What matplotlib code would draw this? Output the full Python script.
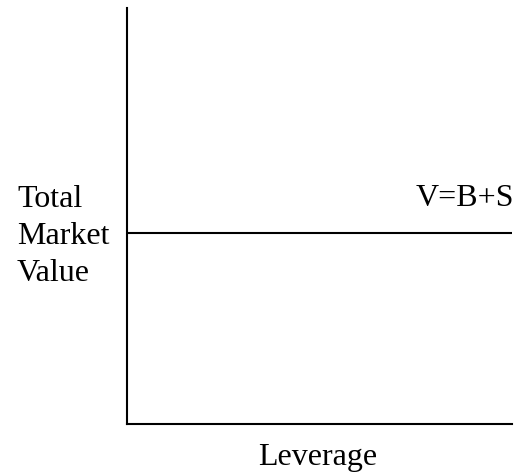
import numpy as np
import matplotlib
matplotlib.use("Agg")
import matplotlib.pyplot as plt

# leverage axis (arbitrary units) and total market value, which stays flat
leverage = [0.0, 1.0]
total_value = [0.46, 0.46]
line_label = "V=B+S"
y_label_lines = ["Total", "Market", "Value"]
x_label = "Leverage"

W, H = 526, 472
plt.rcParams['font.family'] = ['Liberation Serif', 'DejaVu Serif']

fig = plt.figure(figsize=(W / 100, H / 100), dpi=100)
# axes box in pixel terms: x 127..512, y 8..424 (from top)
ax = fig.add_axes([127 / W, (H - 424) / H, (512 - 127) / W, 416 / H])
ax.plot(leverage, total_value, color="black", linewidth=1.5)
ax.set_xlim(0, 1)
ax.set_ylim(0, 1)
for side in ["top", "right"]:
    ax.spines[side].set_visible(False)
for side in ["left", "bottom"]:
    ax.spines[side].set_linewidth(1.5)
ax.set_xticks([])
ax.set_yticks([])

fs = 23
# series label sitting above the right end of the line
fig.text(514 / W, (H - 206) / H, line_label, ha="right", va="baseline",
         fontsize=fs)
# y label, three stacked lines
for i, txt in enumerate(y_label_lines):
    fig.text(17 / W, (H - (207 + 37 * i)) / H, txt, ha="left",
             va="baseline", fontsize=fs)
fig.text(318 / W, (H - 465) / H, x_label, ha="center", va="baseline",
         fontsize=fs)

fig.savefig("out.png", dpi=100)
